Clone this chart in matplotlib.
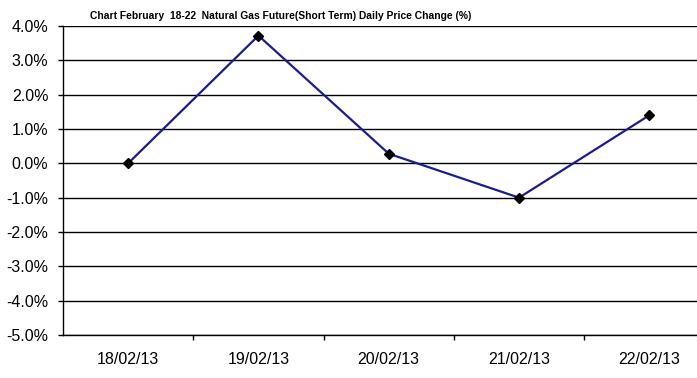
import matplotlib
matplotlib.use("Agg")
import matplotlib.pyplot as plt
from matplotlib.ticker import FixedLocator, FuncFormatter

dates = ["18/02/13", "19/02/13", "20/02/13", "21/02/13", "22/02/13"]
change = [0.0, 3.72, 0.28, -1.0, 1.4]
yticks = [-5, -4, -3, -2, -1, 0, 1, 2, 3, 4]

W, H = 697, 378
fig = plt.figure(figsize=(W / 100, H / 100), dpi=100)
# plot area runs past the right edge, as in the original
left, bottom, top = 63, 335, 26
cat_w = 130.3
ax = fig.add_axes([left / W, (H - bottom) / H, 5 * cat_w / W, (bottom - top) / H])

x = list(range(len(dates)))
ax.plot(x, change, color="#1c1c8e", lw=1.6, marker="D", ms=5,
        mfc="black", mec="black", zorder=3)

ax.set_xlim(-0.5, len(dates) - 0.5)
ax.set_ylim(-5, 4)
ax.set_yticks(yticks)
ax.yaxis.set_major_formatter(FuncFormatter(lambda v, p: f"{v:.1f}%"))
ax.yaxis.grid(True, color="black", lw=1)
ax.set_axisbelow(True)

ax.set_xticks(x)
ax.set_xticklabels(dates)
ax.xaxis.set_minor_locator(FixedLocator([i + 0.5 for i in x]))
ax.tick_params(axis="x", which="major", length=0, pad=12.5)
ax.tick_params(axis="x", which="minor", length=3.6, width=1, direction="out")
ax.tick_params(axis="y", length=3.6, width=1, direction="out", pad=7)
for lab in ax.get_xticklabels() + ax.get_yticklabels():
    lab.set_fontsize(11.5)
    lab.set_family("Liberation Sans")

for s in ["top", "right"]:
    ax.spines[s].set_visible(False)
for s in ["left", "bottom"]:
    ax.spines[s].set_color("black")
    ax.spines[s].set_linewidth(1)

fig.text(281 / W, 1 - 16 / H,
         "Chart February  18-22  Natural Gas Future(Short Term) Daily Price Change (%)",
         ha="center", va="center", fontsize=7.4, fontweight="bold",
         family="Liberation Sans")

fig.savefig("out.png", dpi=100)
